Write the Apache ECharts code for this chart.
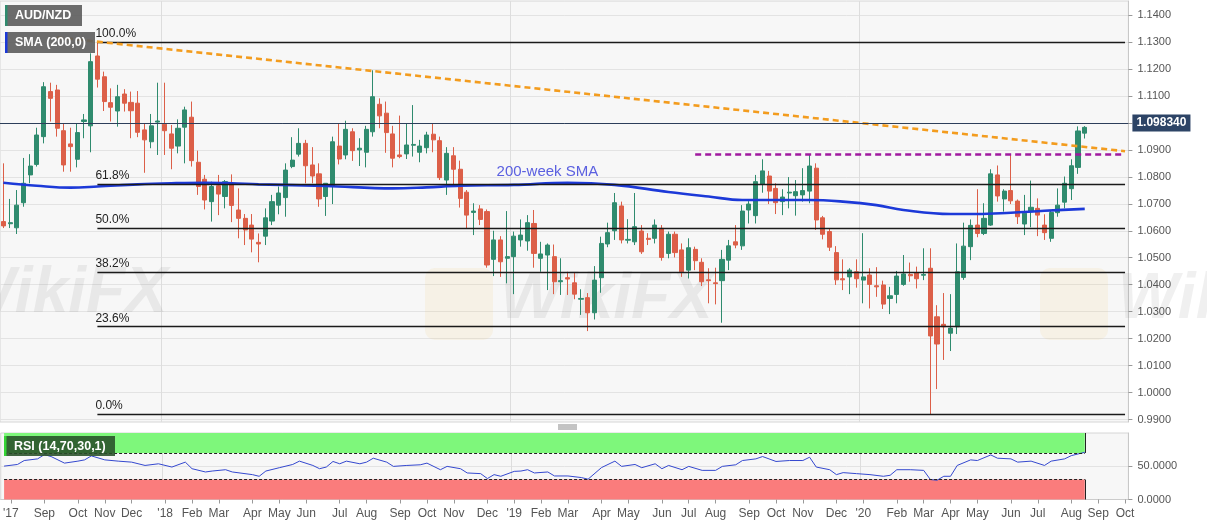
<!DOCTYPE html>
<html>
<head>
<meta charset="utf-8">
<script src="https://cdn.jsdelivr.net/npm/echarts@6/dist/echarts.min.js"></script>
<style>
html, body { margin: 0; padding: 0; background: #fff; }
#chart { width: 1207px; height: 526px; }
</style>
</head>
<body>
<div id="chart"></div>
<script>
// weekly candles, week ending Friday, from 2017-07-21
var weeks = [];
var firstWeek = Date.UTC(2017, 6, 21);
for (var k = 0; k < 168; k++) {
  weeks.push(new Date(firstWeek + k * 7 * 86400000).toISOString().slice(0, 10));
}

var opens = [1.0634,1.0626,1.0611,1.0704,1.0807,1.0846,1.0949,1.1116,1.1122,1.0971,1.0922,1.0865,1.1005,1.0989,1.1248,1.1171,1.1075,1.1044,1.1107,1.1076,
  1.1073,1.0974,1.0930,1.1003,1.0995,1.0959,1.0914,1.0984,1.1021,1.0854,1.0791,1.0708,1.0767,1.0727,1.0773,1.0677,1.0646,1.0621,1.0557,1.0580,
  1.0636,1.0695,1.0723,1.0838,1.0884,1.0924,1.0844,1.0811,1.0727,1.0764,1.0914,1.0881,1.0967,1.0900,1.0891,1.0967,1.1069,1.1036,1.0959,1.0881,
  1.0885,1.0917,1.0891,1.0908,1.0958,1.0934,1.0788,1.0878,1.0828,1.0743,1.0668,1.0681,1.0671,1.0494,1.0566,1.0498,1.0504,1.0566,1.0562,1.0627,
  1.0498,1.0510,1.0504,1.0411,1.0426,1.0407,1.0346,1.0352,1.0296,1.0426,1.0551,1.0600,1.0692,1.0565,1.0559,1.0599,1.0572,1.0572,1.0609,1.0516,
  1.0587,1.0529,1.0454,1.0531,1.0483,1.0418,1.0407,1.0415,1.0491,1.0559,1.0544,1.0677,1.0656,1.0772,1.0803,1.0757,1.0708,1.0740,1.0730,1.0733,
  1.0747,1.0832,1.0648,1.0597,1.0519,1.0422,1.0429,1.0448,1.0417,1.0436,1.0396,1.0399,1.0349,1.0364,1.0401,1.0438,1.0444,1.0435,1.0461,1.0281,
  1.0253,1.0220,1.0244,1.0427,1.0541,1.0621,1.0590,1.0621,1.0807,1.0718,1.0749,1.0710,1.0625,1.0671,1.0683,1.0621,1.0572,1.0667,1.0706,1.0756,
  1.0835,1.0962];
var highs = [1.0850,1.0718,1.0751,1.0870,1.0884,1.0982,1.1151,1.1149,1.1141,1.0999,1.0982,1.0999,1.1033,1.1258,1.1300,1.1190,1.1128,1.1141,1.1125,1.1116,
  1.1118,1.0996,1.1033,1.1149,1.1149,1.0992,1.1013,1.1060,1.1079,1.0897,1.0807,1.0782,1.0807,1.0788,1.0809,1.0757,1.0662,1.0662,1.0590,1.0683,
  1.0733,1.0764,1.0850,1.0947,1.0980,1.0937,1.0910,1.0850,1.0777,1.0949,1.0999,1.1008,1.0980,1.0943,1.0989,1.1195,1.1091,1.1079,1.0989,1.1027,
  1.0999,1.1066,1.0937,1.0967,1.0999,1.0949,1.0910,1.0910,1.0860,1.0751,1.0702,1.0695,1.0679,1.0600,1.0580,1.0673,1.0597,1.0642,1.0658,1.0677,
  1.0559,1.0553,1.0549,1.0498,1.0448,1.0445,1.0383,1.0369,1.0469,1.0578,1.0630,1.0740,1.0708,1.0643,1.0740,1.0621,1.0591,1.0642,1.0621,1.0597,
  1.0597,1.0553,1.0572,1.0541,1.0498,1.0461,1.0463,1.0529,1.0566,1.0621,1.0695,1.0710,1.0807,1.0865,1.0822,1.0776,1.0754,1.0799,1.0788,1.0832,
  1.0884,1.0850,1.0655,1.0609,1.0543,1.0494,1.0461,1.0494,1.0591,1.0461,1.0465,1.0415,1.0392,1.0451,1.0510,1.0482,1.0467,1.0535,1.0535,1.0324,
  1.0369,1.0365,1.0553,1.0630,1.0642,1.0754,1.0702,1.0828,1.0842,1.0754,1.0885,1.0716,1.0733,1.0786,1.0720,1.0661,1.0677,1.0757,1.0801,1.0865,
  1.0987,1.0988];
var lows = [1.0610,1.0610,1.0588,1.0689,1.0776,1.0838,1.0924,1.1005,1.0949,1.0819,1.0819,1.0835,1.0943,1.0891,1.1131,1.1044,1.1005,1.0986,1.1042,1.0943,
  1.0947,1.0815,1.0906,1.0881,1.0881,1.0828,1.0887,1.0850,1.0838,1.0733,1.0679,1.0634,1.0658,1.0683,1.0632,1.0572,1.0547,1.0520,1.0483,1.0547,
  1.0621,1.0661,1.0652,1.0832,1.0875,1.0776,1.0776,1.0689,1.0655,1.0699,1.0846,1.0865,1.0859,1.0840,1.0835,1.0949,1.0980,1.0889,1.0835,1.0869,
  1.0866,1.0875,1.0854,1.0887,1.0891,1.0788,1.0733,1.0764,1.0686,1.0609,1.0584,1.0621,1.0463,1.0432,1.0429,1.0405,1.0365,1.0541,1.0526,1.0463,
  1.0448,1.0380,1.0365,1.0362,1.0362,1.0346,1.0288,1.0228,1.0271,1.0370,1.0539,1.0566,1.0553,1.0553,1.0547,1.0514,1.0547,1.0553,1.0489,1.0498,
  1.0501,1.0429,1.0423,1.0454,1.0395,1.0331,1.0327,1.0259,1.0454,1.0535,1.0529,1.0627,1.0627,1.0741,1.0699,1.0662,1.0658,1.0683,1.0656,1.0708,
  1.0702,1.0603,1.0568,1.0525,1.0399,1.0380,1.0365,1.0389,1.0331,1.0312,1.0355,1.0310,1.0291,1.0331,1.0396,1.0411,1.0386,1.0417,0.9920,1.0013,
  1.0121,1.0154,1.0217,1.0418,1.0491,1.0576,1.0584,1.0618,1.0708,1.0671,1.0699,1.0625,1.0584,1.0613,1.0580,1.0566,1.0559,1.0652,1.0683,1.0714,
  1.0811,1.0942];
var closes = [1.0618,1.0630,1.0695,1.0776,1.0840,1.0955,1.1134,1.1091,1.0980,1.0844,1.0912,1.0964,1.1011,1.1227,1.1162,1.1079,1.1058,1.1097,1.1073,1.1045,
  1.0965,1.0937,1.0989,1.1007,1.0971,1.0906,1.0980,1.1048,1.0860,1.0764,1.0714,1.0764,1.0736,1.0782,1.0694,1.0646,1.0603,1.0569,1.0551,1.0648,
  1.0708,1.0740,1.0825,1.0862,1.0924,1.0841,1.0803,1.0718,1.0776,1.0930,1.0866,1.0976,1.0897,1.0906,1.0976,1.1097,1.1026,1.0964,1.0869,1.0875,
  1.0918,1.0920,1.0914,1.0955,1.0937,1.0797,1.0887,1.0828,1.0720,1.0658,1.0673,1.0642,1.0473,1.0566,1.0485,1.0504,1.0580,1.0584,1.0630,1.0516,
  1.0514,1.0547,1.0411,1.0415,1.0421,1.0365,1.0349,1.0296,1.0417,1.0553,1.0593,1.0704,1.0566,1.0568,1.0615,1.0522,1.0568,1.0621,1.0501,1.0587,
  1.0519,1.0448,1.0537,1.0489,1.0411,1.0415,1.0404,1.0494,1.0544,1.0547,1.0673,1.0699,1.0782,1.0822,1.0747,1.0704,1.0725,1.0743,1.0745,1.0749,
  1.0840,1.0640,1.0587,1.0539,1.0418,1.0418,1.0454,1.0422,1.0429,1.0401,1.0392,1.0328,1.0359,1.0432,1.0440,1.0433,1.0422,1.0438,1.0210,1.0180,
  1.0244,1.0239,1.0448,1.0543,1.0620,1.0590,1.0646,1.0811,1.0729,1.0747,1.0711,1.0652,1.0665,1.0687,1.0658,1.0593,1.0668,1.0695,1.0776,1.0841,
  1.0970,1.09834];

// 200-week SMA, [week index, value]
var sma200 = [[0,1.0778],[5,1.0767],[10,1.0760],[14,1.0764],[20,1.0772],[25,1.0776],[30,1.0778],[34,1.0776],[38,1.0772],[48,1.0766],
  [58,1.0757],[63,1.0761],[68,1.0767],[76,1.0770],[84,1.0778],[91,1.0770],[99,1.0744],[105,1.0727],[110,1.0714],[120,1.0714],
  [125,1.0708],[130,1.0695],[134,1.0677],[141,1.0662],[145,1.0662],[150,1.0667],[155,1.0674],[161,1.0681]];

// RSI(14), [week index, value]
var rsi = [[0,50.2],[2,52.7],[3,58.6],[5,61.1],[6,67.5],[7,64.6],[9,54.7],[11,57.7],[12,59.6],[13,65.6],[15,59.6],[17,57.7],[19,56.2],
  [21,51.2],[23,53.7],[25,48.8],[27,56.2],[28,46.3],[30,41.4],[31,42.8],[33,44.8],[34,41.4],[37,37.4],[38,34.9],[39,42.8],[41,47.8],
  [43,52.7],[44,57.7],[46,51.2],[47,46.3],[48,48.8],[49,57.2],[50,53.7],[51,57.7],[53,53.7],[54,56.2],[55,62.1],[57,56.2],[58,49.8],
  [60,51.2],[62,52.2],[63,54.7],[65,44.8],[66,49.8],[68,46.3],[69,39.9],[71,38.9],[72,31.5],[73,37.4],[74,34.9],[76,42.3],[77,42.8],
  [78,44.8],[79,39.9],[81,41.4],[82,35.4],[84,35.4],[86,33.0],[87,30.5],[89,48.0],[91,57.7],[92,49.8],[94,52.7],[95,47.8],[97,53.7],
  [98,46.3],[99,51.2],[101,44.8],[102,49.8],[104,43.8],[106,43.8],[107,49.8],[109,52.2],[110,58.6],[112,61.1],[113,64.6],[115,57.2],
  [117,58.6],[119,58.6],[120,63.6],[121,48.8],[123,44.8],[124,37.4],[125,40.4],[127,38.9],[129,37.4],[131,34.9],[132,36.4],[133,44.8],
  [135,44.8],[137,43.8],[138,30.0],[139,29.0],[140,34.9],[141,34.9],[142,51.2],[144,59.6],[145,58.6],[147,67.0],[148,62.1],[150,61.1],
  [151,56.2],[153,57.7],[155,51.2],[156,57.7],[158,61.1],[159,66.0],[161,71.0]];

var lastPrice = 1.09834;
var fibStart = 14;
var fibLevels = [['100.0%', 1.1300], ['61.8%', 1.0773], ['50.0%', 1.0610], ['38.2%', 1.0447], ['23.6%', 1.0246], ['0.0%', 0.9920]];
var trendLine = [[8, 1.1317], [167, 1.0895]];
var resistance = [[103, 1.0884], [167, 1.0884]];
var priceTicks = [0.99, 1.00, 1.01, 1.02, 1.03, 1.04, 1.05, 1.06, 1.07, 1.08, 1.09, 1.10, 1.11, 1.12, 1.13, 1.14];
var rsiTicks = [0, 50];
var yearLines = [24, 76, 128];
var tickLabels = [[1,"'17"],[6,'Sep'],[11,'Oct'],[15,'Nov'],[19,'Dec'],[24,"'18"],[28,'Feb'],[32,'Mar'],[37,'Apr'],[41,'May'],
  [45,'Jun'],[50,'Jul'],[54,'Aug'],[59,'Sep'],[63,'Oct'],[67,'Nov'],[72,'Dec'],[76,"'19"],[80,'Feb'],[84,'Mar'],[89,'Apr'],
  [93,'May'],[98,'Jun'],[102,'Jul'],[106,'Aug'],[111,'Sep'],[115,'Oct'],[119,'Nov'],[124,'Dec'],[128,"'20"],[133,'Feb'],
  [137,'Mar'],[141,'Apr'],[145,'May'],[150,'Jun'],[154,'Jul'],[159,'Aug'],[163,'Sep'],[167,'Oct']];

var upColor = '#2f8b6e';
var downColor = '#dc5f48';
var font = 'Arial, "Liberation Sans", sans-serif';

var labelByIndex = {};
tickLabels.forEach(function (t) { labelByIndex[t[0]] = t[1]; });
function isLabelTick(i) { return labelByIndex[i] !== undefined; }
function isYearLine(i) { return yearLines.indexOf(i) >= 0; }

var candleData = opens.map(function (o, i) { return [o, closes[i], lows[i], highs[i]]; });
var smaData = sma200.map(function (p) { return [weeks[p[0]], p[1]]; });
var rsiData = rsi.map(function (p) { return [weeks[p[0]], p[1]]; });
var lastIdx = opens.length - 1;

var mainLines = [];
fibLevels.forEach(function (f) {
  mainLines.push([
    { coord: [weeks[fibStart], f[1]], lineStyle: { color: '#1a1a1a', width: 1.3, type: 'solid' },
      label: { show: true, position: 'insideStartTop', formatter: f[0], color: '#222', fontSize: 12, fontFamily: font, distance: [-2, 2] } },
    { coord: [weeks[weeks.length - 1], f[1]] }
  ]);
});
mainLines.push([
  { coord: [weeks[trendLine[0][0]], trendLine[0][1]], lineStyle: { color: '#f39c1e', width: 2.6, type: [6, 4] } },
  { coord: [weeks[trendLine[1][0]], trendLine[1][1]] }
]);
mainLines.push([
  { coord: [weeks[resistance[0][0]], resistance[0][1]], lineStyle: { color: '#a0199f', width: 2.6, type: [6, 4] } },
  { coord: [weeks[resistance[1][0]], resistance[1][1]] }
]);
mainLines.push({
  yAxis: lastPrice,
  lineStyle: { color: '#2c3e5a', width: 1, type: 'solid' },
  label: { show: true, position: 'end', formatter: lastPrice.toFixed(6), color: '#fff', fontWeight: 'bold', fontSize: 12,
    fontFamily: font, backgroundColor: '#2d4466', padding: [3, 4, 2, 4], distance: 4 }
});

var rsiLines = [
  [{ coord: [weeks[0], 70] }, { coord: [weeks[lastIdx], 70] }],
  [{ coord: [weeks[0], 30] }, { coord: [weeks[lastIdx], 30] }],
  [{ coord: [weeks[lastIdx], 70], lineStyle: { type: 'solid' } }, { coord: [weeks[lastIdx], 100] }],
  [{ coord: [weeks[lastIdx], 0], lineStyle: { type: 'solid' } }, { coord: [weeks[lastIdx], 30] }]
];

function legendBox(x, y, w, h, stripe, fill, text) {
  return [
    { type: 'rect', z: 100, silent: true, shape: { x: x, y: y, width: w, height: h }, style: { fill: fill } },
    { type: 'rect', z: 101, silent: true, shape: { x: x, y: y, width: 2.5, height: h }, style: { fill: stripe } },
    { type: 'text', z: 102, silent: true, x: x + 10, y: y + h / 2 + 0.5,
      style: { text: text, fill: '#ffffff', font: 'bold 12.5px ' + font, verticalAlign: 'middle', align: 'left' } }
  ];
}

var watermarks = [
  { type: 'text', x: -45, y: 262, z: 1, silent: true, style: { text: 'WikiFX', fill: 'rgba(110,110,110,0.10)', font: 'italic bold 64px ' + font } },
  { type: 'text', x: 500, y: 268, z: 1, silent: true, style: { text: 'WikiFX', fill: 'rgba(110,110,110,0.10)', font: 'italic bold 64px ' + font } },
  { type: 'text', x: 1118, y: 268, z: 1, silent: true, style: { text: 'WikiFX', fill: 'rgba(110,110,110,0.10)', font: 'italic bold 64px ' + font } },
  { type: 'rect', x: 425, y: 268, z: 1, silent: true, shape: { width: 68, height: 72, r: 10 }, style: { fill: 'rgba(240,200,110,0.12)' } },
  { type: 'rect', x: 1040, y: 268, z: 1, silent: true, shape: { width: 68, height: 72, r: 10 }, style: { fill: 'rgba(240,200,110,0.12)' } }
];

var handle = [0, 2, 4].map(function (dy) {
  return { type: 'line', z: 100, silent: true, shape: { x1: 558, y1: 425 + dy, x2: 577, y2: 425 + dy }, style: { stroke: '#888', lineWidth: 1 } };
});

var chart = echarts.init(document.getElementById('chart'));
var option = {
  animation: false,
  backgroundColor: '#ffffff',
  grid: [
    { left: -3.8, top: 1, width: 1132.2, height: 421, show: true, backgroundColor: '#f7f7f7', borderColor: '#d6d6d6', borderWidth: 1 },
    { left: -3.8, top: 433, width: 1132.2, height: 66.5, show: true, backgroundColor: '#f7f7f7', borderColor: '#d6d6d6', borderWidth: 1 }
  ],
  xAxis: [
    {
      type: 'category', gridIndex: 0, data: weeks, boundaryGap: true,
      axisLine: { show: false }, axisTick: { show: false }, axisLabel: { show: false },
      splitLine: { show: true, interval: isYearLine, lineStyle: { color: '#dddddd' } }
    },
    {
      type: 'category', gridIndex: 1, data: weeks, boundaryGap: true,
      axisLine: { show: true, lineStyle: { color: '#cccccc' } },
      axisTick: { show: true, interval: isLabelTick, alignWithLabel: true, length: 4, lineStyle: { color: '#999' } },
      axisLabel: { interval: isLabelTick, formatter: function (v, i) { return labelByIndex[i] || ''; },
        color: '#555', fontSize: 12, fontFamily: font, margin: 8 },
      splitLine: { show: true, interval: isYearLine, lineStyle: { color: '#dddddd' } }
    }
  ],
  yAxis: [
    {
      type: 'value', gridIndex: 0, position: 'right', min: 0.98909, max: 1.14519,
      axisLine: { show: true, lineStyle: { color: '#c8c8c8' } },
      axisTick: { show: true, customValues: priceTicks, length: 4, lineStyle: { color: '#999' } },
      axisLabel: { customValues: priceTicks, formatter: function (v) { return v.toFixed(4); },
        color: '#555', fontSize: 11, fontFamily: font, margin: 9 },
      splitLine: { show: true, lineStyle: { color: '#e3e3e3' } }
    },
    {
      type: 'value', gridIndex: 1, position: 'right', min: 0, max: 100,
      axisLine: { show: true, lineStyle: { color: '#c8c8c8' } },
      axisTick: { show: true, customValues: rsiTicks, length: 4, lineStyle: { color: '#999' } },
      axisLabel: { customValues: rsiTicks, formatter: function (v) { return v.toFixed(4); },
        color: '#555', fontSize: 11, fontFamily: font, margin: 9 },
      splitLine: { show: true, lineStyle: { color: '#e3e3e3' } }
    }
  ],
  series: [
    {
      name: 'AUD/NZD', type: 'candlestick', xAxisIndex: 0, yAxisIndex: 0,
      data: candleData, barWidth: 4.6,
      itemStyle: { color: upColor, color0: downColor, borderColor: upColor, borderColor0: downColor, borderWidth: 1 },
      markLine: { silent: true, symbol: ['none', 'none'], label: { show: false }, data: mainLines }
    },
    {
      name: 'SMA (200,0)', type: 'line', xAxisIndex: 0, yAxisIndex: 0,
      data: smaData, smooth: 0.4, showSymbol: false, symbol: 'none',
      lineStyle: { color: '#1c39d8', width: 2.6 },
      markPoint: {
        silent: true, symbol: 'rect', symbolSize: 1, itemStyle: { color: 'rgba(0,0,0,0)' },
        label: { show: true, position: 'inside', formatter: '200-week SMA', color: '#5b60e0', fontSize: 15, fontFamily: font },
        data: [{ coord: [weeks[81], 1.0818] }]
      }
    },
    {
      name: 'RSI', type: 'line', xAxisIndex: 1, yAxisIndex: 1,
      data: rsiData, showSymbol: false, symbol: 'none',
      lineStyle: { color: '#3448cf', width: 1 },
      markArea: {
        silent: true,
        data: [
          [{ coord: [weeks[0], 70], itemStyle: { color: '#7ef77b' } }, { coord: [weeks[lastIdx], 100] }],
          [{ coord: [weeks[0], 0], itemStyle: { color: '#fa7c7c' } }, { coord: [weeks[lastIdx], 30] }]
        ]
      },
      markLine: { silent: true, symbol: ['none', 'none'], label: { show: false },
        lineStyle: { color: '#222', width: 1, type: [3, 2] }, data: rsiLines }
    }
  ],
  graphic: [].concat(
    watermarks,
    legendBox(5, 5, 77, 21, '#2f8b6e', 'rgba(95,95,95,0.92)', 'AUD/NZD'),
    legendBox(5, 32, 90, 21, '#1c39d8', 'rgba(95,95,95,0.92)', 'SMA (200,0)'),
    legendBox(4, 436, 111, 20, '#35d635', 'rgba(40,80,40,0.88)', 'RSI (14,70,30,1)'),
    handle
  )
};
chart.setOption(option);
</script>
</body>
</html>
